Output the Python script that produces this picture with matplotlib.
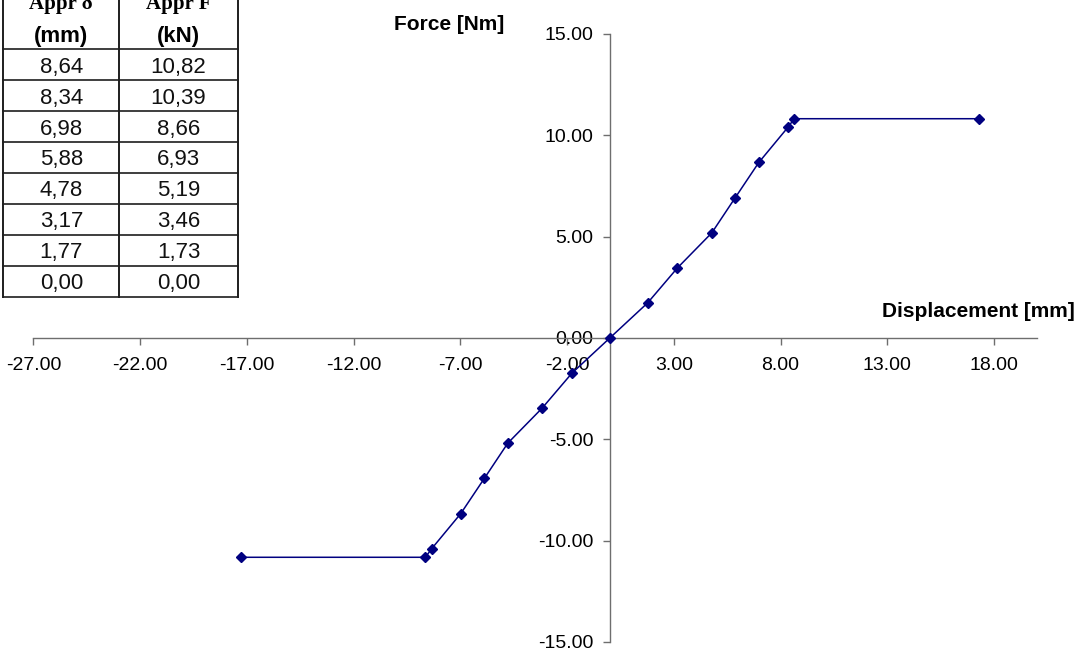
import numpy as np
import matplotlib
matplotlib.use('Agg')
import matplotlib.pyplot as plt
from matplotlib.ticker import FormatStrFormatter

# table values
appr_d = [8.64, 8.34, 6.98, 5.88, 4.78, 3.17, 1.77, 0.00]
appr_f = [10.82, 10.39, 8.66, 6.93, 5.19, 3.46, 1.73, 0.00]
col_head = ['Appr δ', 'Appr F']
col_unit = ['(mm)', '(kN)']

# curve values
disp = [-17.28, -8.64, -8.34, -6.98, -5.88, -4.78, -3.17, -1.77, 0.00,
        1.77, 3.17, 4.78, 5.88, 6.98, 8.34, 8.64, 17.28]
force = [-10.82, -10.82, -10.39, -8.66, -6.93, -5.19, -3.46, -1.73, 0.00,
         1.73, 3.46, 5.19, 6.93, 8.66, 10.39, 10.82, 10.82]

xticks = [-27, -22, -17, -12, -7, -2, 3, 8, 13, 18]
yticks = [-15, -10, -5, 0, 5, 10, 15]

W, H = 1087, 654
plt.rcParams['font.family'] = ['Liberation Sans', 'DejaVu Sans']
fig = plt.figure(figsize=(W / 100, H / 100), dpi=100)

axcol = '#6e6e6e'
ax = fig.add_axes([33.5 / W, (H - 642) / H, (1036.7 - 33.5) / W, (642 - 34) / H])
ax.plot(disp, force, color='#000080', lw=1.1, marker='D', ms=5.2,
        mfc='#000080', mec='#000080', zorder=3, clip_on=False)
ax.set_xlim(-27, 20)
ax.set_ylim(-15, 15)
for s in ['top', 'right']:
    ax.spines[s].set_visible(False)
ax.spines['left'].set_position(('data', 0))
ax.spines['bottom'].set_position(('data', 0))
for s in ['left', 'bottom']:
    ax.spines[s].set_color(axcol)
    ax.spines[s].set_linewidth(1.0)
ax.set_xticks(xticks)
ax.set_yticks(yticks)
ax.xaxis.set_major_formatter(FormatStrFormatter('%.2f'))
ax.yaxis.set_major_formatter(FormatStrFormatter('%.2f'))
ax.tick_params(axis='x', direction='out', length=5, width=1, color=axcol,
               labelsize=14, pad=9)
ax.tick_params(axis='y', direction='out', length=5, width=1, color=axcol,
               labelsize=14, pad=7)
ax.patch.set_alpha(0)

fig.text(449.5 / W, 1 - 30 / H, 'Force [Nm]', fontsize=15, fontweight='bold',
         ha='center', va='baseline')
fig.text(1075 / W, 1 - 316.7 / H, 'Displacement [mm]', fontsize=15,
         fontweight='bold', ha='right', va='baseline')

# table drawn in pixel coords
tab = fig.add_axes([0, 0, 1, 1], zorder=-1)
tab.set_xlim(0, W)
tab.set_ylim(H, 0)
tab.axis('off')
xs = [3.3, 119.3, 237.7]
row_h = 30.9
y0 = 49.3
n = len(appr_d)
lc = '#1e1e1e'
for i in range(n + 1):
    tab.plot([xs[0], xs[-1]], [y0 + i * row_h] * 2, color=lc, lw=1.2)
for x in xs:
    tab.plot([x, x], [-20, y0 + n * row_h], color=lc, lw=1.4)
for j, vals in enumerate([appr_d, appr_f]):
    cx = (xs[j] + xs[j + 1]) / 2
    tab.text(cx, 9, col_head[j], family='Liberation Serif', fontweight='bold',
             fontsize=15, ha='center', va='baseline')
    tab.text(cx, 42, col_unit[j], fontweight='bold', fontsize=16,
             ha='center', va='baseline')
    for i, v in enumerate(vals):
        tab.text(cx, y0 + (i + 0.5) * row_h, ('%.2f' % v).replace('.', ','),
                 fontsize=16, ha='center', va='center_baseline', color='#111111')

fig.savefig('out.png', dpi=100)
